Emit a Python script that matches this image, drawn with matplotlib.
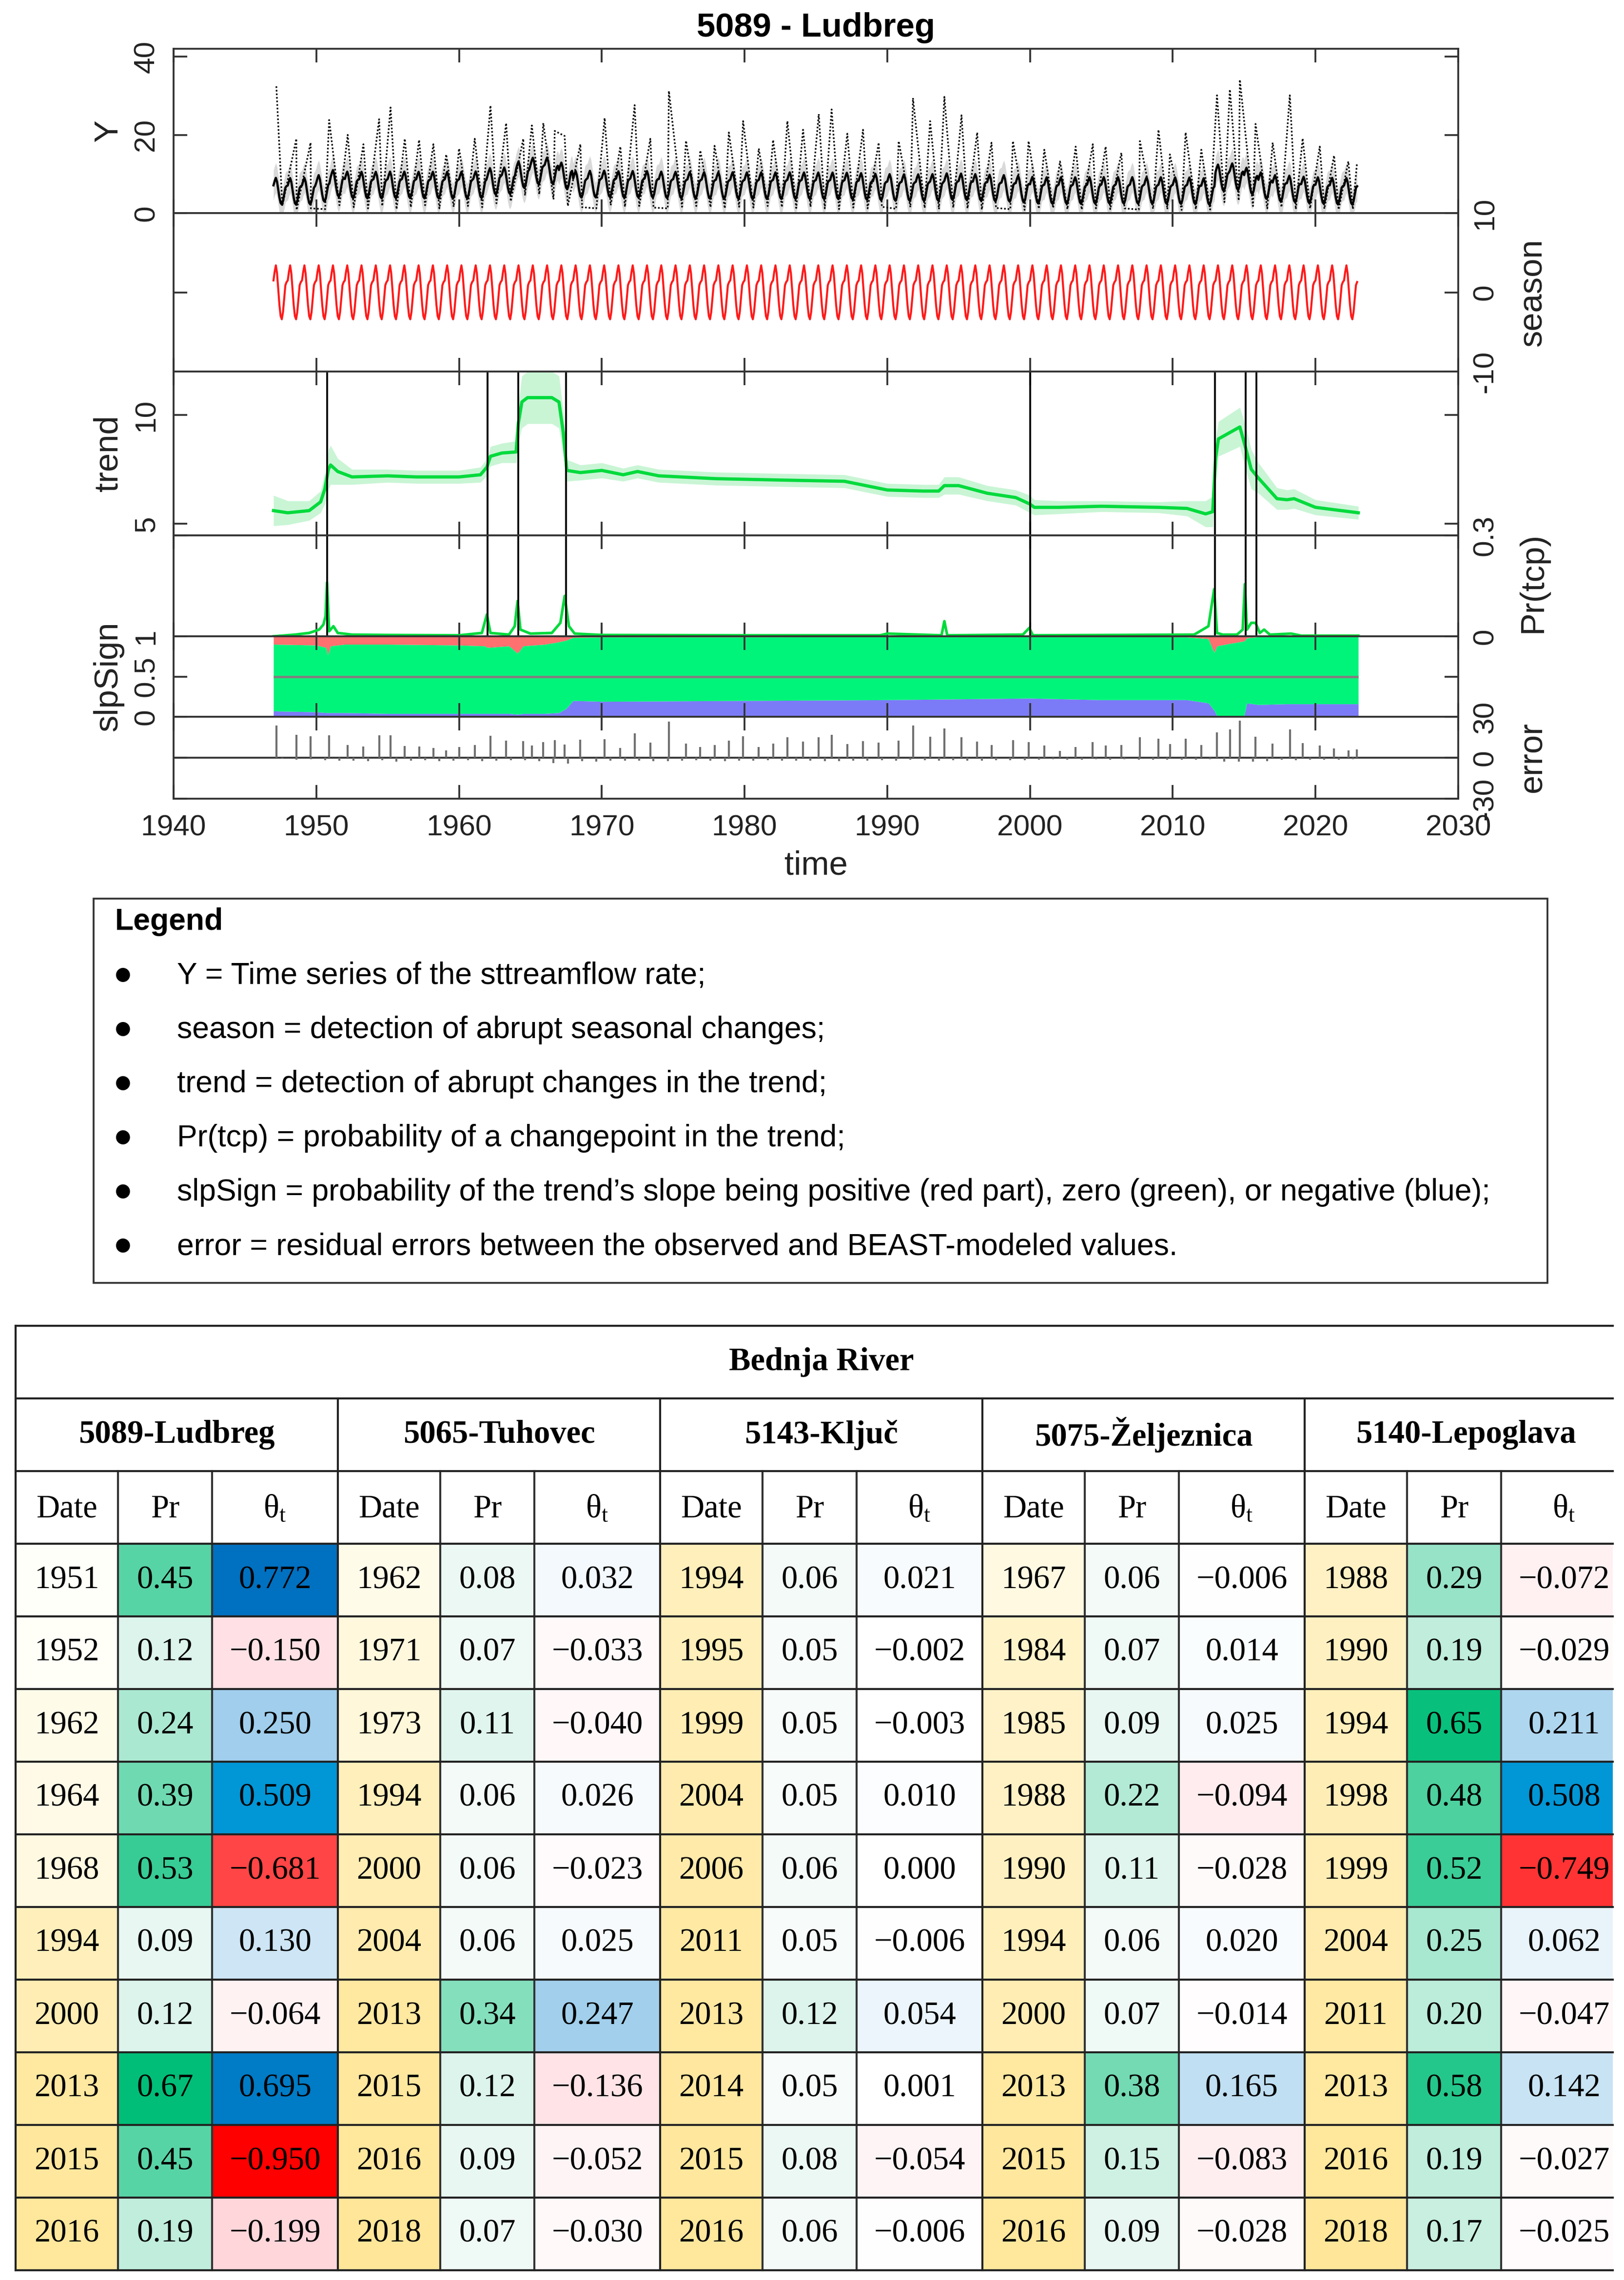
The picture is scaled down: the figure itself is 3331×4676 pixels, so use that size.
import numpy as np
import matplotlib
matplotlib.use("Agg")
import matplotlib.pyplot as plt
from matplotlib.patches import Rectangle
from matplotlib.colors import LinearSegmentedColormap

plt.rcParams['font.family'] = ['Liberation Sans', 'DejaVu Sans']
plt.rcParams['mathtext.fontset'] = 'custom'
plt.rcParams['mathtext.rm'] = 'Liberation Serif'
plt.rcParams['mathtext.it'] = 'Liberation Serif:italic'

W, H, DPI = 3331, 4676, 300

# ---------------- BEAST output for 5089 - Ludbreg ----------------
years = np.arange(1947, 2023)
season_month = [1.5, 2.6, 3.4, 2.4, 0.4, -1.6, -3.0, -3.4, -2.5, -0.8, 0.9, 1.3]
trend_annual = [5.6, 5.55, 5.6, 6.3, 7.6, 7.2, 7.15, 7.15, 7.2, 7.2,
                7.15, 7.15, 7.15, 7.15, 7.25, 8.1, 8.25, 9.8, 10.75, 10.8,
                9.5, 7.35, 7.4, 7.45, 7.3, 7.35, 7.35, 7.2, 7.15, 7.1,
                7.08, 7.05, 7.03, 7.0, 7.0, 7.0, 7.0, 6.98, 6.97, 6.95,
                6.9, 6.8, 6.65, 6.55, 6.5, 6.5, 6.55, 6.75, 6.7, 6.55,
                6.4, 6.3, 6.15, 5.85, 5.75, 5.75, 5.75, 5.78, 5.8, 5.8,
                5.78, 5.76, 5.75, 5.73, 5.7, 5.5, 9.0, 9.3, 8.2, 7.0,
                6.3, 6.15, 5.9, 5.75, 5.6, 5.55]
y_ci = 3.8

# observed flow: yearly flood peaks and summer lows
peak_t = [1947.2, 1948.6, 1949.6, 1950.9, 1952.2, 1953.3, 1954.4, 1955.2, 1956.2, 1957.2,
          1958.2, 1959.1, 1960.0, 1961.1, 1962.2, 1963.3, 1964.5, 1965.1, 1965.9, 1966.7,
          1967.4, 1968.5, 1970.2, 1971.3, 1972.3, 1973.4, 1974.7, 1975.9, 1976.9, 1977.9,
          1978.9, 1979.9, 1981.0, 1982.0, 1983.0, 1984.1, 1985.2, 1986.1, 1987.2, 1988.3,
          1989.4, 1990.8, 1991.8, 1993.0, 1994.0, 1995.2, 1996.3, 1997.3, 1998.8, 1999.9,
          2001.0, 2002.1, 2003.2, 2004.4, 2005.3, 2006.4, 2007.7, 2009.0, 2009.8, 2010.9,
          2012.0, 2013.1, 2014.0, 2014.7, 2015.8, 2017.0, 2018.2, 2019.1, 2020.3, 2021.3,
          2022.3, 2022.9]
peak_v = [32.4, 19, 18, 23.8, 20, 17.6, 24, 27, 19, 18.7,
          17.6, 15, 16.5, 19, 27.5, 23, 19, 22.4, 23, 21,
          19.7, 17.6, 24.3, 17, 27.6, 19, 31.2, 18.5, 16, 17.2,
          20.6, 23.5, 16.5, 18.7, 23.5, 21.3, 25.3, 26.5, 20.3, 21.3,
          18, 18.4, 29.4, 23.5, 29.7, 25, 20.6, 18, 18.4, 18.4,
          16.2, 13.2, 17, 17.6, 17, 15.4, 18.4, 21.3, 15, 20.6,
          16.2, 30.1, 31.6, 34.1, 22.8, 18, 30.1, 19.1, 17, 14.7,
          13.2, 12.5]
low_v = [1.8, 0.8, 1.2, 1.0, 2.0, 1.5, 1.2, 1.8, 1.0, 1.5,
         2.0, 1.2, 1.6, 1.8, 1.5, 2.5, 3.0, 4.5, 4.8, 3.5,
         1.8, 1.5, 1.2, 2.0, 1.6, 1.8, 1.4, 1.2, 1.6, 1.8,
         1.5, 1.2, 1.6, 1.4, 1.8, 1.5, 1.3, 1.6, 1.2, 1.0,
         1.4, 1.2, 1.6, 1.1, 1.5, 1.3, 1.0, 1.4, 1.2, 0.9,
         1.3, 1.0, 0.8, 1.1, 1.3, 1.0, 0.9, 1.2, 1.0, 1.2,
         0.9, 1.1, 1.0, 0.8, 1.0, 0.9, 2.8, 3.2, 1.8, 1.2,
         1.5, 1.0, 1.2, 1.1, 0.9, 1.0]

trend_t = [1947.0, 1948.0, 1949.5, 1950.3, 1950.6, 1950.85, 1951.0, 1951.5, 1952.5, 1955.0,
           1957.0, 1960.0, 1961.5, 1961.95, 1962.2, 1963.0, 1964.0, 1964.15, 1964.4, 1964.8,
           1966.5, 1967.0, 1967.3, 1967.55, 1968.5, 1970.0, 1971.5, 1972.5, 1974.0, 1978.0,
           1983.0, 1987.0, 1990.0, 1992.5, 1993.6, 1994.0, 1995.0, 1997.0, 1999.0, 2000.0,
           2000.3, 2002.0, 2005.0, 2009.0, 2011.0, 2012.3, 2012.8, 2013.0, 2013.2, 2014.7,
           2015.1, 2015.5, 2016.0, 2017.3, 2018.0, 2018.5, 2020.0, 2023.0]
trend_v = [5.6, 5.5, 5.6, 6.0, 6.6, 7.5, 7.7, 7.4, 7.15, 7.2,
           7.15, 7.15, 7.25, 7.6, 8.1, 8.25, 8.3, 9.6, 10.6, 10.8,
           10.8, 10.6, 9.2, 7.45, 7.35, 7.45, 7.25, 7.4, 7.2, 7.07,
           7.0, 6.95, 6.55, 6.5, 6.5, 6.75, 6.75, 6.4, 6.2, 5.9,
           5.75, 5.75, 5.8, 5.75, 5.7, 5.45, 5.55, 8.0, 8.9, 9.45,
           8.5, 7.5, 7.1, 6.15, 6.1, 6.15, 5.75, 5.5]
trend_ci = [0.7, 0.55, 0.45, 0.5, 0.7, 0.9, 0.9, 0.6, 0.35, 0.3,
            0.3, 0.3, 0.35, 0.4, 0.45, 0.45, 0.5, 0.9, 1.2, 1.2,
            1.2, 1.2, 1.0, 0.5, 0.35, 0.35, 0.3, 0.3, 0.3, 0.3,
            0.3, 0.3, 0.3, 0.3, 0.3, 0.4, 0.4, 0.35, 0.35, 0.4,
            0.35, 0.3, 0.25, 0.25, 0.35, 0.6, 0.7, 0.9, 0.8, 0.9,
            1.0, 0.9, 0.7, 0.5, 0.45, 0.45, 0.35, 0.3]

cp_t = [1950.75, 1962.0, 1964.15, 1967.5, 2000.0, 2012.95, 2015.1, 2015.85]

tcp_t = [1947.0, 1948.5, 1949.5, 1950.2, 1950.5, 1950.65, 1950.75, 1950.9, 1951.2, 1951.5,
         1952.5, 1955.0, 1960.0, 1961.6, 1961.95, 1962.2, 1963.5, 1963.9, 1964.1, 1964.3,
         1965.0, 1966.5, 1967.1, 1967.4, 1967.7, 1968.1, 1970.0, 1980.0, 1989.5, 1990.0,
         1993.8, 1994.0, 1994.2, 1999.5, 1999.95, 2000.2, 2011.5, 2012.5, 2012.9, 2013.1,
         2013.5, 2014.5, 2014.9, 2015.05, 2015.2, 2015.5, 2015.8, 2016.1, 2016.4, 2016.8,
         2018.3, 2019.0, 2023.0]
tcp_p = [0.0, 0.005, 0.01, 0.02, 0.035, 0.06, 0.16, 0.015, 0.03, 0.01,
         0.005, 0.004, 0.003, 0.01, 0.065, 0.01, 0.005, 0.03, 0.105, 0.02,
         0.008, 0.01, 0.04, 0.12, 0.03, 0.008, 0.004, 0.003, 0.003, 0.008,
         0.003, 0.045, 0.003, 0.005, 0.025, 0.003, 0.005, 0.03, 0.14, 0.01,
         0.005, 0.005, 0.02, 0.155, 0.02, 0.04, 0.04, 0.01, 0.02, 0.005,
         0.008, 0.002, 0.002]

slp_t = [1947.0, 1950.0, 1950.7, 1950.8, 1951.0, 1952.0, 1955.0, 1960.0, 1961.8, 1962.0,
         1963.5, 1964.1, 1964.5, 1966.0, 1967.0, 1967.5, 1968.0, 1970.0, 1980.0, 1990.0,
         2000.0, 2005.0, 2011.0, 2012.5, 2012.9, 2013.1, 2014.0, 2015.0, 2015.2, 2016.0,
         2018.0, 2023.0]
slp_pos = [0.10, 0.11, 0.14, 0.23, 0.12, 0.10, 0.10, 0.11, 0.12, 0.14,
           0.12, 0.21, 0.12, 0.10, 0.07, 0.05, 0.015, 0.01, 0.01, 0.008,
           0.008, 0.008, 0.01, 0.03, 0.2, 0.12, 0.09, 0.06, 0.02, 0.008,
           0.005, 0.005]
slp_neg = [0.07, 0.06, 0.05, 0.05, 0.05, 0.05, 0.04, 0.04, 0.04, 0.04,
           0.04, 0.03, 0.04, 0.04, 0.05, 0.1, 0.2, 0.19, 0.2, 0.21,
           0.23, 0.21, 0.21, 0.17, 0.08, 0.01, 0.01, 0.01, 0.17, 0.15,
           0.16, 0.16]

# ---------------- table: Bednja River ----------------
stations = ['5089-Ludbreg', '5065-Tuhovec', '5143-Ključ', '5075-Željeznica', '5140-Lepoglava']
date_ludbreg = [1951, 1952, 1962, 1964, 1968, 1994, 2000, 2013, 2015, 2016]
pr_ludbreg = [0.45, 0.12, 0.24, 0.39, 0.53, 0.09, 0.12, 0.67, 0.45, 0.19]
th_ludbreg = [0.772, -0.150, 0.250, 0.509, -0.681, 0.130, -0.064, 0.695, -0.950, -0.199]
date_tuhovec = [1962, 1971, 1973, 1994, 2000, 2004, 2013, 2015, 2016, 2018]
pr_tuhovec = [0.08, 0.07, 0.11, 0.06, 0.06, 0.06, 0.34, 0.12, 0.09, 0.07]
th_tuhovec = [0.032, -0.033, -0.040, 0.026, -0.023, 0.025, 0.247, -0.136, -0.052, -0.030]
date_kljuc = [1994, 1995, 1999, 2004, 2006, 2011, 2013, 2014, 2015, 2016]
pr_kljuc = [0.06, 0.05, 0.05, 0.05, 0.06, 0.05, 0.12, 0.05, 0.08, 0.06]
th_kljuc = [0.021, -0.002, -0.003, 0.010, 0.000, -0.006, 0.054, 0.001, -0.054, -0.006]
date_zeljeznica = [1967, 1984, 1985, 1988, 1990, 1994, 2000, 2013, 2015, 2016]
pr_zeljeznica = [0.06, 0.07, 0.09, 0.22, 0.11, 0.06, 0.07, 0.38, 0.15, 0.09]
th_zeljeznica = [-0.006, 0.014, 0.025, -0.094, -0.028, 0.020, -0.014, 0.165, -0.083, -0.028]
date_lepoglava = [1988, 1990, 1994, 1998, 1999, 2004, 2011, 2013, 2016, 2018]
pr_lepoglava = [0.29, 0.19, 0.65, 0.48, 0.52, 0.25, 0.20, 0.58, 0.19, 0.17]
th_lepoglava = [-0.072, -0.029, 0.211, 0.508, -0.749, 0.062, -0.047, 0.142, -0.027, -0.025]

legend_items = [
    "Y = Time series of the sttreamflow rate;",
    "season = detection of abrupt seasonal changes;",
    "trend = detection of abrupt changes in the trend;",
    "Pr(tcp) = probability of a changepoint in the trend;",
    "slpSign = probability of the trend\u2019s slope being positive (red part), zero (green), or negative (blue);",
    "error = residual errors between the observed and BEAST-modeled values.",
]

# ---------------- derived series ----------------
t_month = years[0] + np.arange(len(years) * 12) / 12.0
season_series = np.tile(season_month, len(years))
fitted = np.repeat(trend_annual, 12) + season_series

obs_t = np.concatenate([peak_t, years + 0.62])
obs_v = np.concatenate([peak_v, low_v])
order = np.argsort(obs_t)
obs_t, obs_v = obs_t[order], obs_v[order]
idx = np.clip(((obs_t - years[0]) * 12).astype(int), 0, len(fitted) - 1)
err = obs_v - fitted[idx]

trend_v_a = np.array(trend_v)
trend_ci_a = np.array(trend_ci)
pos_a = np.array(slp_pos)
neg_a = np.array(slp_neg)

# ---------------- figure ----------------
fig = plt.figure(figsize=(W / DPI, H / DPI), dpi=DPI)


def px_rect(x0, y0, x1, y1):
    return [x0 / W, 1 - y1 / H, (x1 - x0) / W, (y1 - y0) / H]


edges = [100, 437, 762, 1098, 1305, 1470, 1638]
AX_L, AX_R = 356, 2991
axes = [fig.add_axes(px_rect(AX_L, edges[i], AX_R, edges[i + 1])) for i in range(6)]
ax_y, ax_s, ax_t, ax_p, ax_g, ax_e = axes

FRAME = '#333333'
GREEN = '#00DA3C'
for ax in axes:
    ax.set_xlim(1940, 2030)
    ax.set_xticks(range(1940, 2031, 10))
    ax.tick_params(direction='in', length=6.7, width=0.9, color=FRAME,
                   top=True, bottom=True, left=True, right=True,
                   labelbottom=False, labelsize=14.5, labelcolor='#222222')
    for s in ax.spines.values():
        s.set_linewidth(0.9)
        s.set_color(FRAME)


def yticks(ax, ticks, labels, side):
    ax.set_yticks(ticks)
    ax.set_yticklabels(labels, rotation=90, va='center')
    ax.tick_params(axis='y', labelleft=(side == 'left'), labelright=(side == 'right'),
                   pad=6.8)


# Y
ax_y.fill_between(t_month, np.clip(fitted - y_ci, 0, None), fitted + y_ci, color='#D9D9D9', lw=0)
ax_y.plot(obs_t, obs_v, color='black', lw=0.8, ls=(0, (1, 1.2)))
ax_y.plot(t_month, fitted, color='black', lw=1.1)
ax_y.set_ylim(0, 42)
yticks(ax_y, [0, 20, 40], ['0', '20', '40'], 'left')

# season
ax_s.fill_between(t_month, season_series - 0.4, season_series + 0.4, color='#EEFBFB', lw=0)
ax_s.plot(t_month, season_series, color='#FF1A1A', lw=1.0)
ax_s.set_ylim(-10, 10)
yticks(ax_s, [-10, 0, 10], ['-10', '0', '10'], 'right')

# trend
ax_t.fill_between(trend_t, trend_v_a - trend_ci_a, trend_v_a + trend_ci_a, color='#C9F5D5', lw=0)
ax_t.plot(trend_t, trend_v, color=GREEN, lw=1.6)
for c in cp_t:
    ax_t.axvline(c, color='black', lw=0.9)
ax_t.set_ylim(4.46, 12.0)
yticks(ax_t, [5, 10], ['5', '10'], 'left')

# Pr(tcp)
ax_p.plot(tcp_t, tcp_p, color=GREEN, lw=1.3)
for c in cp_t:
    ax_p.axvline(c, color='black', lw=0.9)
ax_p.set_ylim(0, 0.3)
yticks(ax_p, [0, 0.3], ['0', '0.3'], 'right')

# slpSign
ax_g.fill_between(slp_t, 0, neg_a, color='#7B7BF7', lw=0)
ax_g.fill_between(slp_t, neg_a, 1 - pos_a, color='#00F47A', lw=0)
ax_g.fill_between(slp_t, 1 - pos_a, 1, color='#FF7070', lw=0)
ax_g.hlines(0.5, slp_t[0], slp_t[-1], color='#808080', lw=1.2)
ax_g.set_ylim(0, 1)
yticks(ax_g, [0, 0.5, 1], ['0', '0.5', '1'], 'left')

# error
ax_e.axhline(0, color=FRAME, lw=0.9)
ax_e.vlines(obs_t, 0, err, color='#707070', lw=1.0)
ax_e.set_ylim(-30, 30)
yticks(ax_e, [-30, 0, 30], ['-30', '0', '30'], 'right')
ax_e.tick_params(axis='x', labelbottom=True, pad=7.7)

# ---------------- canvas for text, legend box and table ----------------
cv = fig.add_axes([0, 0, 1, 1])
cv.set_xlim(0, W)
cv.set_ylim(H, 0)
cv.axis('off')

cx = (AX_L + AX_R) / 2
cv.text(cx, 57, '5089 - Ludbreg', ha='center', va='center', fontsize=16.5, fontweight='bold')
cv.text(cx, 1776, 'time', ha='center', va='center', fontsize=16.5, color='#222222')
for lab, yc in [('Y', 268), ('trend', 930), ('slpSign', 1387)]:
    cv.text(222, yc, lab, rotation=90, ha='center', va='center', fontsize=16.5, color='#222222')
for lab, yc in [('season', 600), ('Pr(tcp)', 1195), ('error', 1554)]:
    cv.text(3144, yc, lab, rotation=90, ha='center', va='center', fontsize=16.5, color='#222222')

# legend box
cv.add_patch(Rectangle((192, 1843), 3174 - 192, 2631 - 1843, fill=False, lw=0.9, ec=FRAME))
cv.text(236, 1907, 'Legend', fontsize=15, fontweight='bold', va='baseline')
for i, item in enumerate(legend_items):
    yc = 1999 + i * 111
    cv.text(252, yc, '\u25CF', ha='center', va='center', fontsize=9,
            family=['DejaVu Sans'])
    cv.text(363, yc + 19, item, fontsize=15, va='baseline')

# table
SERIF = ['Liberation Serif', 'DejaVu Serif']
T_L, T_CUT = 32, 3308
col_w = [210, 193, 258]
grp_w = sum(col_w)
row_h = 149
row_y = [2719 + row_h * i for i in range(14)]

all_dates = date_ludbreg + date_tuhovec + date_kljuc + date_zeljeznica + date_lepoglava
all_pr = pr_ludbreg + pr_tuhovec + pr_kljuc + pr_zeljeznica + pr_lepoglava
date_cmap = LinearSegmentedColormap.from_list('dt', ['#FFFFF9', '#FFE699'])
pr_cmap = LinearSegmentedColormap.from_list('pr', ['#F7FBF9', '#00BE78'])
pos_cmap = LinearSegmentedColormap.from_list(
    'pos', [(0, '#FFFFFF'), (0.33, '#9DCDEB'), (0.66, '#0096D6'), (1, '#0070C0')])
neg_cmap = LinearSegmentedColormap.from_list(
    'neg', [(0, '#FFFFFF'), (0.2, '#FFD8DC'), (0.72, '#FF4444'), (1, '#FF0000')])
d_lo, d_hi = min(all_dates), max(all_dates)
p_lo, p_hi = min(all_pr), max(all_pr)


def theta_color(v):
    if v >= 0:
        return pos_cmap(v / 0.772)
    return neg_cmap(-v / 0.950)


def fmt_theta(v):
    s = f'{abs(v):.3f}'
    return ('\u2212' + s) if v < 0 else s


groups = [(date_ludbreg, pr_ludbreg, th_ludbreg), (date_tuhovec, pr_tuhovec, th_tuhovec),
          (date_kljuc, pr_kljuc, th_kljuc), (date_zeljeznica, pr_zeljeznica, th_zeljeznica),
          (date_lepoglava, pr_lepoglava, th_lepoglava)]

TS = 16
for g, (dts, prs, ths) in enumerate(groups):
    gx = T_L + grp_w * g
    cols = [gx, gx + col_w[0], gx + col_w[0] + col_w[1], gx + grp_w]
    cv.text(gx + grp_w / 2, (row_y[1] + row_y[2]) / 2, stations[g], ha='center', va='center',
            fontsize=TS, fontweight='bold', family=SERIF)
    heads = ['Date', 'Pr', r'$\mathrm{θ_t}$']
    for c in range(3):
        cv.text((cols[c] + cols[c + 1]) / 2, (row_y[2] + row_y[3]) / 2 + 4, heads[c],
                ha='center', va='center', fontsize=TS, family=SERIF)
    for r in range(10):
        y0, y1 = row_y[3 + r], row_y[4 + r]
        colors = [date_cmap((dts[r] - d_lo) / (d_hi - d_lo)),
                  pr_cmap((prs[r] - p_lo) / (p_hi - p_lo)),
                  theta_color(ths[r])]
        texts = [str(dts[r]), f'{prs[r]:.2f}', fmt_theta(ths[r])]
        for c in range(3):
            x0, x1 = cols[c], min(cols[c + 1], T_CUT)
            cv.add_patch(Rectangle((x0, y0), x1 - x0, y1 - y0, color=colors[c], lw=0))
            cv.text((cols[c] + cols[c + 1]) / 2, (y0 + y1) / 2, texts[c], ha='center',
                    va='center', fontsize=TS, family=SERIF)
    # vertical rules
    if g > 0:
        cv.plot([gx, gx], [row_y[1], row_y[-1]], color='#222222', lw=1.0)
    for c in (1, 2):
        cv.plot([cols[c], cols[c]], [row_y[2], row_y[-1]], color='#333333', lw=1.0)

cv.text(T_L + grp_w * 5 / 2, (row_y[0] + row_y[1]) / 2, 'Bednja River', ha='center',
        va='center', fontsize=TS, fontweight='bold', family=SERIF)
for yy in row_y:
    cv.plot([T_L, T_CUT], [yy, yy], color='#222222', lw=1.0)
cv.plot([T_L, T_L], [row_y[0], row_y[-1]], color='#222222', lw=1.0)

fig.savefig('out.png', dpi=DPI)
